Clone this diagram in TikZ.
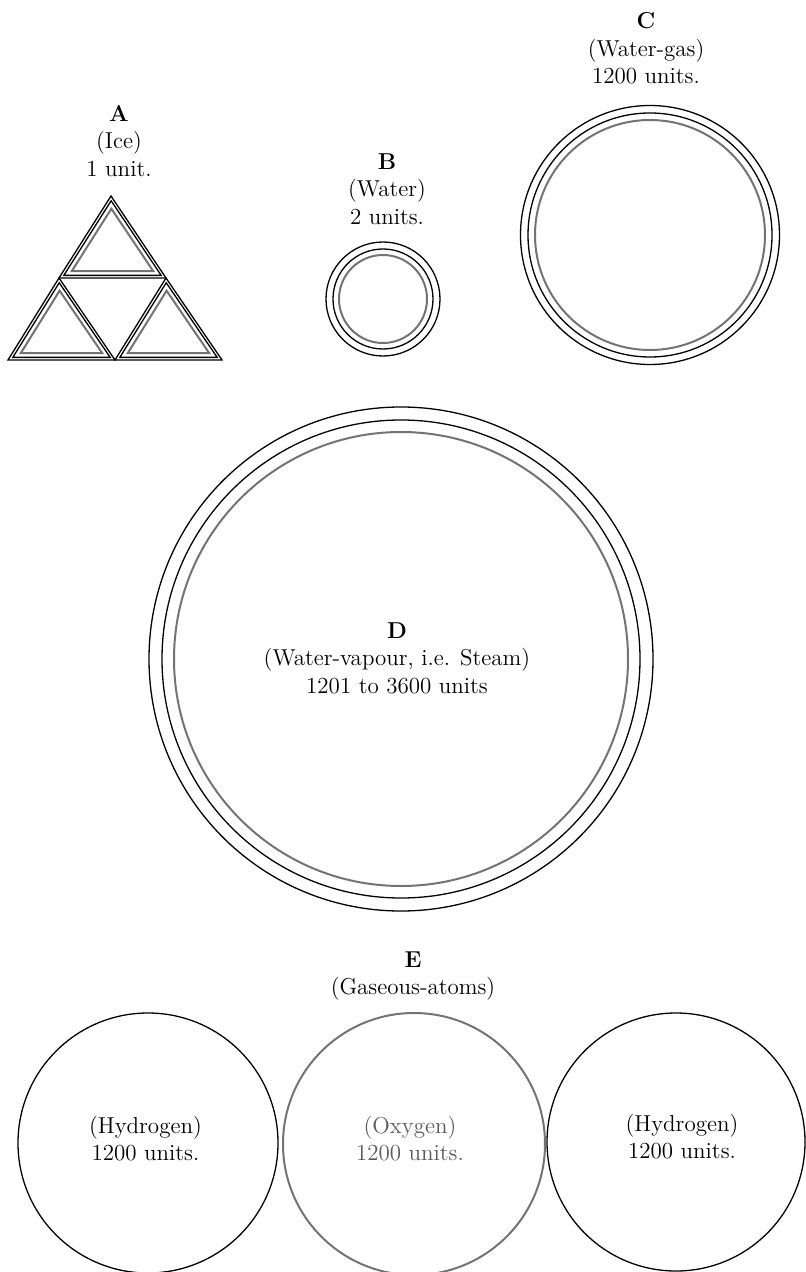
\documentclass[tikz,border=0pt]{standalone}
\usetikzlibrary{calc}
\definecolor{inkgray}{gray}{0.45}
\newcommand{\icecell}[3]{%
  \coordinate (mid) at ($(#2)!0.5!(#3)+(0,-29)$);
  \draw[rim] (#1) -- (#2) -- (#3) -- cycle;
  \draw[rim] ($(mid)!0.91!(#1)$) -- ($(mid)!0.91!(#2)$) -- ($(mid)!0.91!(#3)$) -- cycle;
  \draw[core] ($(mid)!0.76!(#1)$) -- ($(mid)!0.76!(#2)$) -- ($(mid)!0.76!(#3)$) -- cycle;
}
\newcommand{\ringset}[4]{%
  \draw[rim] (#1) circle[radius=#2];
  \draw[rim] (#1) circle[radius=#3];
  \draw[core] (#1) circle[radius=#4];
}
\begin{document}
\begin{tikzpicture}[x=0.5pt,y=-0.5pt,
  rim/.style={draw=black,line width=0.65pt},
  core/.style={draw=inkgray,line width=1pt},
  caption/.style={align=center,inner sep=0pt,font=\fontsize{11.5}{13.75}\selectfont}]
  \useasboundingbox (0,0) rectangle (806,1272);
  \coordinate (top) at (111,196);
  \coordinate (midL) at (59,278);
  \coordinate (midR) at (166,278);
  \coordinate (botL) at (8,360);
  \coordinate (botM) at (115,360);
  \coordinate (botR) at (222,360);
  \icecell{top}{midL}{midR}
  \icecell{midL}{botL}{botM}
  \icecell{midR}{botM}{botR}
  \node[caption,anchor=north] (labA) at (119,105) {\textbf{A}\\(Ice)\\1 unit.};
  \coordinate (water) at (383,299);
  \ringset{water}{57}{50}{44}
  \node[caption,anchor=north] (labB) at (387,153) {\textbf{B}\\(Water)\\2 units.};
  \coordinate (wgas) at (650,235);
  \ringset{wgas}{129.5}{122}{115}
  \node[caption,anchor=north] (labC) at (646,12.5) {\textbf{C}\\(Water-gas)\\1200 units.};
  \coordinate (steam) at (401,659);
  \ringset{steam}{252}{239}{227}
  \node[caption,anchor=north] (labD) at (397,622) {\textbf{D}\\(Water-vapour, i.e. Steam)\\1201 to 3600 units};
  \node[caption,anchor=north] (labE) at (413,951) {\textbf{E}\\(Gaseous-atoms)};
  \coordinate (hydL) at (148,1143);
  \coordinate (oxy) at (414,1144);
  \coordinate (hydR) at (676,1142);
  \draw[rim] (hydL) circle[radius=130];
  \draw[core] (oxy) circle[radius=131];
  \draw[rim] (hydR) circle[radius=129];
  \node[caption,anchor=north] (txtL) at (145.5,1115.5) {(Hydrogen)\\1200 units.};
  \node[caption,anchor=north,text=black!65] (txtO) at (410,1115.5) {(Oxygen)\\1200 units.};
  \node[caption,anchor=north] (txtR) at (682,1113.5) {(Hydrogen)\\1200 units.};
\end{tikzpicture}
\end{document}
